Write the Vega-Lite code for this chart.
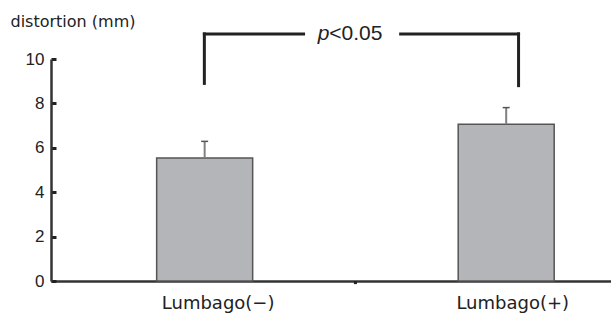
{
  "$schema": "https://vega.github.io/schema/vega-lite/v6.json",
  "autosize": "none",
  "width": 560,
  "height": 222,
  "padding": {"left": 51, "top": 59, "right": 0, "bottom": 43},
  "background": "white",
  "config": {"view": {"stroke": null}},
  "datasets": {
    "bars": [
      {"group": "Lumbago(−)", "pos": 0.493, "mean": 5.54, "upper": 6.29},
      {"group": "Lumbago(+)", "pos": 1.493, "mean": 7.06, "upper": 7.81}
    ],
    "bracket": [
      {"x": 0.492, "x2": 0.492, "y": 8.9, "y2": 11.13},
      {"x": 0.492, "x2": 0.821, "y": 11.13, "y2": 11.13},
      {"x": 1.143, "x2": 1.534, "y": 11.13, "y2": 11.13},
      {"x": 1.534, "x2": 1.534, "y": 8.8, "y2": 11.13}
    ],
    "ptext": [
      {"t": "p", "x": 0.868, "y": 11.13}
    ],
    "rtext": [
      {"t": "<0.05", "x": 0.906, "y": 11.13}
    ],
    "dot": [{"x": 0.993, "y": 0, "y2": -0.14}]
  },
  "layer": [
    {
      "data": {"name": "bars"},
      "mark": {"type": "bar", "width": 96, "fill": "#b4b5b9", "stroke": "#555555", "strokeWidth": 1.5},
      "encoding": {
        "x": {
          "field": "pos", "type": "quantitative",
          "scale": {"domain": [0, 1.824], "nice": false, "zero": false},
          "axis": {
            "values": [0.536, 1.513],
            "labelExpr": "datum.value < 1 ? 'Lumbago(−)' : 'Lumbago(+)'",
            "ticks": false, "grid": false, "title": null,
            "domainColor": "#333333", "domainWidth": 2.5,
            "labelFont": "DejaVu Sans", "labelFontSize": 18, "labelColor": "#222222",
            "labelPadding": 13, "labelBaseline": "top"
          }
        },
        "y": {
          "field": "mean", "type": "quantitative",
          "scale": {"domain": [0, 10], "nice": false},
          "axis": {
            "values": [0, 2, 4, 6, 8, 10],
            "grid": false, "tickSize": -5, "tickWidth": 3, "tickColor": "#222222",
            "domainColor": "#333333", "domainWidth": 2.5,
            "labelFont": "Liberation Sans", "labelFontSize": 17, "labelColor": "#222222",
            "labelPadding": 12,
            "title": "distortion (mm)", "titleAngle": 0, "titleAlign": "left",
            "titleBaseline": "alphabetic", "titleX": -41, "titleY": -33,
            "titleFont": "DejaVu Sans", "titleFontSize": 16, "titleFontWeight": "normal",
            "titleColor": "#222222"
          }
        }
      }
    },
    {
      "data": {"name": "bars"},
      "mark": {"type": "rule", "stroke": "#808080", "strokeWidth": 2},
      "encoding": {
        "x": {"field": "pos", "type": "quantitative"},
        "y": {"field": "mean", "type": "quantitative"},
        "y2": {"field": "upper"}
      }
    },
    {
      "data": {"name": "bars"},
      "mark": {"type": "tick", "orient": "horizontal", "size": 7, "thickness": 1.5, "color": "#555555", "opacity": 1},
      "encoding": {
        "x": {"field": "pos", "type": "quantitative"},
        "y": {"field": "upper", "type": "quantitative"}
      }
    },
    {
      "data": {"name": "bracket"},
      "mark": {"type": "rule", "stroke": "#222222", "strokeWidth": 3, "strokeCap": "square"},
      "encoding": {
        "x": {"field": "x", "type": "quantitative"},
        "x2": {"field": "x2"},
        "y": {"field": "y", "type": "quantitative"},
        "y2": {"field": "y2"}
      }
    },
    {
      "data": {"name": "ptext"},
      "mark": {"type": "text", "align": "left", "baseline": "middle", "font": "Liberation Sans", "fontSize": 21, "fontStyle": "italic", "color": "#222222"},
      "encoding": {
        "x": {"field": "x", "type": "quantitative"},
        "y": {"field": "y", "type": "quantitative"},
        "text": {"field": "t"}
      }
    },
    {
      "data": {"name": "rtext"},
      "mark": {"type": "text", "align": "left", "baseline": "middle", "font": "Liberation Sans", "fontSize": 21, "color": "#222222"},
      "encoding": {
        "x": {"field": "x", "type": "quantitative"},
        "y": {"field": "y", "type": "quantitative"},
        "text": {"field": "t"}
      }
    },
    {
      "data": {"name": "dot"},
      "mark": {"type": "rule", "stroke": "#222222", "strokeWidth": 3},
      "encoding": {
        "x": {"field": "x", "type": "quantitative"},
        "y": {"field": "y", "type": "quantitative"},
        "y2": {"field": "y2"}
      }
    }
  ]
}
